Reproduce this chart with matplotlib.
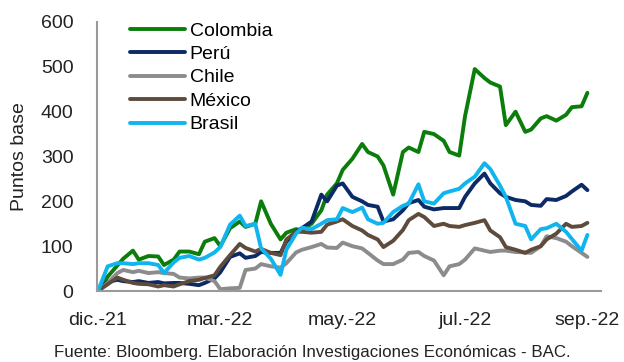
import matplotlib
matplotlib.use("Agg")
import matplotlib.pyplot as plt
import pandas as pd

plt.rcParams["font.family"] = ["Liberation Sans", "DejaVu Sans"]

# Spread over the start of the year, sampled every 3 business days
dates = pd.bdate_range("2021-12-31", periods=61, freq="3B")

colombia = [0, 32, 57, 72, 90, 70, 78, 77, 58, 70,
            88, 88, 82, 110, 118, 100, 140, 155, 143, 150,
            200, 150, 115, 130, 138, 135, 150, 180, 215, 240,
            270, 295, 328, 310, 300, 280, 215, 310, 320, 310,
            355, 350, 335, 310, 302, 390, 495, 475, 465, 456,
            370, 400, 355, 360, 385, 390, 380, 393, 410, 412,
            442]
peru = [0, 20, 25, 22, 20, 22, 18, 20, 17, 18,
        18, 16, 13, 18, 28, 42, 76, 84, 74, 78,
        87, 85, 85, 110, 132, 140, 155, 215, 200, 235,
        240, 210, 200, 192, 188, 155, 160, 180, 196, 203,
        188, 182, 185, 185, 185, 210, 240, 262, 240, 218,
        210, 203, 200, 192, 190, 205, 203, 212, 222, 237,
        225]
chile = [0, 18, 40, 47, 42, 45, 40, 42, 40, 38,
         30, 28, 30, 30, 22, 4, 6, 7, 47, 50,
         60, 55, 52, 62, 86, 92, 98, 105, 97, 96,
         108, 100, 95, 85, 68, 60, 60, 70, 85, 87,
         78, 68, 35, 55, 60, 70, 95, 90, 87, 90,
         90, 87, 86, 85, 100, 122, 118, 110, 100, 85,
         76]
mexico = [0, 15, 30, 25, 18, 16, 15, 10, 13, 10,
          15, 22, 25, 29, 35, 54, 80, 105, 96, 88,
          94, 85, 80, 115, 132, 132, 130, 132, 148, 155,
          160, 145, 135, 125, 115, 98, 112, 136, 158, 172,
          165, 145, 150, 145, 143, 147, 152, 158, 135, 120,
          98, 92, 85, 92, 100, 115, 128, 150, 143, 145,
          152]
brasil = [0, 55, 62, 62, 60, 62, 62, 58, 40, 64,
          74, 78, 70, 74, 86, 98, 148, 168, 145, 150,
          95, 72, 36, 92, 128, 141, 138, 150, 158, 160,
          185, 176, 186, 160, 150, 152, 176, 190, 195, 238,
          200, 195, 218, 222, 228, 240, 255, 285, 272, 235,
          210, 150, 145, 115, 138, 140, 150, 132, 116, 90,
          125]

series_names = ["Colombia", "Perú", "Chile", "México", "Brasil"]
series_colors = ["#0A7D0A", "#0B2A66", "#8C8C8C", "#5E4B3C", "#10B4EE"]

tick_dates = pd.to_datetime(["2021-12-31", "2022-03-04", "2022-05-06",
                             "2022-07-08", "2022-09-09"])
tick_labels = ["dic.-21", "mar.-22", "may.-22", "jul.-22", "sep.-22"]
y_ticks = [0, 100, 200, 300, 400, 500, 600]

fig = plt.figure(figsize=(6.24, 3.62), dpi=100)
ax = fig.add_axes([97 / 624, 1 - 291 / 362, 504 / 624, 269 / 362])

for name, values, color in zip(series_names,
                               [colombia, peru, chile, mexico, brasil],
                               series_colors):
    ax.plot(dates, values, color=color, lw=2.8, label=name,
            solid_joinstyle="round", solid_capstyle="round")

ax.set_ylim(0, 600)
ax.set_yticks(y_ticks)
ax.set_xlim(dates[0] - pd.Timedelta(days=0.5), dates[-1] + pd.Timedelta(days=7))
ax.set_xticks(tick_dates)
ax.set_xticklabels(tick_labels)
ax.tick_params(axis="both", length=0, labelsize=14, colors="#222222")
ax.tick_params(axis="x", pad=15)
ax.tick_params(axis="y", pad=17)

for side in ["top", "right"]:
    ax.spines[side].set_visible(False)
for side in ["left", "bottom"]:
    ax.spines[side].set_color("#9a9a9a")
    ax.spines[side].set_linewidth(1.5)

ax.set_ylabel("Puntos base", fontsize=14, color="#222222", labelpad=9)

ax.legend(loc="upper left", bbox_to_anchor=(0.066, 1.0), frameon=False,
          fontsize=14, handlelength=2.8, handletextpad=0.25,
          labelspacing=0.3, borderpad=0, borderaxespad=0)

fig.text(0.5, 1 - 352 / 362, "Fuente: Bloomberg. Elaboración Investigaciones Económicas - BAC.",
         ha="center", va="center", fontsize=12.2, color="#222222")

fig.savefig("out.png", dpi=100)
plt.close(fig)
